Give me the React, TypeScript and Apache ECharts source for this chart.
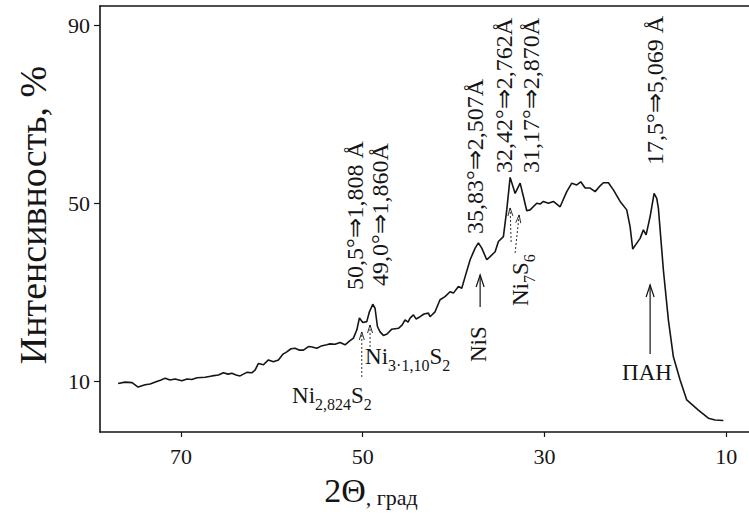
import React, { useEffect, useRef } from "react";
import * as echarts from "echarts";

// 2Θ (degrees) and relative intensity (%)
const twoTheta = [
  76.91, 76.14, 75.37, 74.71, 73.94, 73.39, 72.73, 72.18, 71.74, 71.19,
  70.64, 69.9, 69.32, 68.8, 68.22, 67.34, 66.57, 65.87, 65.32, 64.81,
  64.4, 63.93, 63.49, 62.75, 62.2, 61.84, 61.47, 60.92, 60.37, 59.82,
  59.27, 58.76, 58.35, 57.88, 57.44, 57.0, 56.52, 55.97, 55.57, 55.05,
  54.58, 53.95, 53.59, 53.04, 52.49, 51.94, 51.39, 51.02, 50.65, 50.36,
  49.99, 49.55, 49.26, 48.89, 48.64, 48.38, 48.09, 47.72, 47.32, 46.8,
  46.07, 45.67, 45.34, 45.01, 44.79, 44.42, 44.13, 43.69, 43.25, 42.77,
  42.59, 42.04, 41.49, 40.94, 40.39, 40.02, 39.47, 39.1, 38.73, 38.18,
  37.63, 37.27, 36.9, 36.35, 35.98, 35.43, 35.07, 34.52, 34.15, 33.78,
  33.23, 32.68, 32.32, 31.95, 31.58, 30.85, 30.48, 30.12, 29.57, 29.02,
  28.28, 27.55, 27.0, 26.45, 26.01, 25.53, 24.98, 24.43, 23.88, 23.52,
  22.97, 22.42, 21.68, 20.95, 20.58, 20.29, 19.92, 19.48, 19.12, 18.82,
  18.38, 17.94, 17.65, 17.47, 16.92, 16.37, 15.82, 15.08, 14.35, 13.07,
  11.97, 11.23, 10.32,
];
const intensity = [
  9.6, 9.9, 9.8, 8.8, 9.3, 9.5, 10.0, 10.4, 10.8, 10.4,
  10.6, 10.2, 10.6, 10.5, 10.9, 11.0, 11.3, 11.5, 12.0, 11.7,
  11.9, 11.5, 11.3, 12.1, 12.0, 12.6, 14.1, 13.8, 14.9, 14.5,
  14.9, 16.2, 16.7, 17.4, 17.5, 17.1, 17.1, 17.9, 17.8, 17.5,
  18.0, 18.3, 18.5, 18.4, 18.8, 18.3, 19.2, 19.8, 21.6, 24.3,
  23.3, 23.5, 25.7, 27.4, 26.5, 22.4, 21.2, 20.4, 20.7, 21.8,
  22.0, 22.7, 23.9, 23.4, 24.3, 25.0, 24.1, 24.6, 25.2, 25.4,
  24.6, 25.7, 28.4, 29.1, 30.2, 29.9, 31.4, 31.0, 33.6, 37.4,
  40.0, 41.2, 40.0, 37.4, 38.1, 39.2, 41.5, 42.6, 48.6, 55.9,
  52.3, 54.6, 51.6, 48.4, 48.6, 50.1, 49.9, 50.5, 50.1, 50.5,
  49.3, 52.7, 54.6, 54.2, 54.9, 53.5, 53.5, 52.7, 54.0, 54.7,
  54.7, 53.1, 50.5, 48.6, 44.8, 39.8, 40.9, 42.2, 44.1, 43.0,
  47.1, 52.3, 51.2, 49.0, 35.1, 23.9, 15.6, 10.4, 5.9, 3.6,
  1.8, 1.4, 1.3,
];

const xTickValues = [70, 50, 30, 10];
const yTickValues = [10, 50, 90];

// peak annotations (vertical text), anchored at their lower end, in data coordinates
const peakLabels = [
  { text: "50,5°⇒1,808 Å", at: [50.84, 30.6] },
  { text: "49,0°⇒1,860Å", at: [48.09, 31.5] },
  { text: "35,83°⇒2,507Å", at: [37.63, 43.2] },
  { text: "32,42°⇒2,762Å", at: [34.44, 56.9] },
  { text: "31,17°⇒2,870Å", at: [31.47, 56.9] },
  { text: "17,5°⇒5,069 Å", at: [17.83, 58.7] },
];

// phase labels (rich text: {m|..} = main, {s|..} = subscript)
const phaseLabels = [
  { text: "{m|Ni}{s|2,824}{m|S}{s|2}", at: [57.77, 6.79], vertical: false },
  { text: "{m|Ni}{s|3·1,10}{m|S}{s|2}", at: [49.74, 15.55], vertical: false },
  { text: "{m|NiS}", at: [37.3, 14.4], vertical: true },
  { text: "{m|Ni}{s|7}{m|S}{s|6}", at: [32.68, 27.0], vertical: true },
  { text: "{m|ПАН}", at: [21.46, 11.96], vertical: false },
];

// arrows pointing at peaks: tail -> head, in data coordinates
const arrows = [
  { from: [50.1, 11.06], to: [50.1, 21.17], dotted: true },
  { from: [49.19, 17.8], to: [49.19, 22.74], dotted: true },
  { from: [37.08, 26.79], to: [37.08, 33.98], dotted: false },
  { from: [33.67, 41.39], to: [33.78, 49.03], dotted: true },
  { from: [33.23, 38.92], to: [32.79, 47.46], dotted: true },
  { from: [18.38, 16.22], to: [18.38, 31.73], dotted: false },
];

export default function App() {
  const ref = useRef<HTMLDivElement>(null);

  useEffect(() => {
    const el = ref.current;
    if (!el) return;
    const chart = echarts.init(el, null, { renderer: "svg" });
    const family = "Liberation Serif";
    const ink = "#151515";

    const axisLine = { show: true, onZero: false, lineStyle: { color: ink, width: 1.6 } };

    chart.setOption({
      animation: false,
      backgroundColor: "#ffffff",
      textStyle: { fontFamily: family },
      grid: { left: 100, right: 0, top: 6, bottom: 83, containLabel: false },
      xAxis: [
        {
          type: "value",
          min: 7.5,
          max: 78.9,
          inverse: true,
          position: "bottom",
          axisLine,
          axisTick: { show: true, length: 5, customValues: xTickValues, lineStyle: { color: ink, width: 1.2 } },
          axisLabel: { customValues: xTickValues, margin: 13, color: ink, fontFamily: family, fontSize: 22 },
          splitLine: { show: false },
        },
        {
          type: "value",
          min: 7.5,
          max: 78.9,
          inverse: true,
          position: "top",
          axisLine,
          axisTick: { show: false },
          axisLabel: { show: false },
          splitLine: { show: false },
        },
      ],
      yAxis: {
        type: "value",
        min: -1.3,
        max: 94.4,
        axisLine,
        axisTick: { show: true, length: 6, customValues: yTickValues, lineStyle: { color: ink, width: 1.2 } },
        axisLabel: { customValues: yTickValues, margin: 10, color: ink, fontFamily: family, fontSize: 22 },
        splitLine: { show: false },
      },
      series: [
        {
          type: "line",
          xAxisIndex: 0,
          yAxisIndex: 0,
          data: twoTheta.map((x, i) => [x, intensity[i]]),
          symbol: "none",
          showSymbol: false,
          lineStyle: { color: ink, width: 1.6 },
        },
      ],
    });

    const px = (p: number[]) => chart.convertToPixel({ seriesIndex: 0 }, p) as number[];

    const elements: any[] = [];

    peakLabels.forEach((l) => {
      const [x, y] = px(l.at);
      elements.push({
        type: "text",
        x,
        y,
        rotation: Math.PI / 2,
        z: 10,
        style: {
          text: l.text,
          font: `24px ${family}`,
          fontFamily: family,
          fontSize: 24,
          fill: ink,
          align: "left",
          verticalAlign: "middle",
          textAlign: "left",
          textVerticalAlign: "middle",
        },
      });
    });

    phaseLabels.forEach((l) => {
      const [x, y] = px(l.at);
      elements.push({
        type: "text",
        x,
        y,
        rotation: l.vertical ? Math.PI / 2 : 0,
        z: 10,
        style: {
          text: l.text,
          fontFamily: family,
          fontSize: 23,
          fill: ink,
          align: "left",
          verticalAlign: "middle",
          textAlign: "left",
          textVerticalAlign: "middle",
          rich: {
            m: { fontFamily: family, fontSize: 23, lineHeight: 34, fill: ink, color: ink },
            s: { fontFamily: family, fontSize: 16, lineHeight: 14, verticalAlign: "bottom", fill: ink, color: ink },
          },
        },
      });
    });

    arrows.forEach((a) => {
      const [x1, y1] = px(a.from);
      const [x2, y2] = px(a.to);
      const dx = x2 - x1;
      const dy = y2 - y1;
      const len = Math.hypot(dx, dy) || 1;
      const ux = dx / len;
      const uy = dy / len;
      const L = a.dotted ? 8 : 12;
      const W = a.dotted ? 2.5 : 4;
      const bx = x2 - ux * L;
      const by = y2 - uy * L;
      const lw = a.dotted ? 0.9 : 1.2;
      elements.push({
        type: "line",
        z: 10,
        shape: { x1, y1, x2, y2 },
        style: { stroke: ink, lineWidth: lw, lineDash: a.dotted ? [2, 2] : null },
      });
      elements.push({
        type: "polyline",
        z: 10,
        shape: {
          points: [
            [bx - uy * W, by + ux * W],
            [x2, y2],
            [bx + uy * W, by - ux * W],
          ],
        },
        style: { stroke: ink, lineWidth: lw, fill: null },
      });
    });

    // axis titles
    elements.push({
      type: "text",
      x: 33,
      y: 215,
      rotation: Math.PI / 2,
      z: 10,
      style: {
        text: "Интенсивность, %",
        font: `38px ${family}`,
        fontFamily: family,
        fontSize: 38,
        fill: ink,
        align: "center",
        verticalAlign: "middle",
        textAlign: "center",
        textVerticalAlign: "middle",
      },
    });
    elements.push({
      type: "text",
      x: 371,
      y: 490,
      z: 10,
      style: {
        text: "{a|2Θ}{b|, град}",
        fill: ink,
        align: "center",
        verticalAlign: "middle",
        textAlign: "center",
        textVerticalAlign: "middle",
        rich: {
          a: { fontFamily: family, fontSize: 34, lineHeight: 36, fill: ink, color: ink },
          b: { fontFamily: family, fontSize: 22, lineHeight: 25, verticalAlign: "bottom", fill: ink, color: ink },
        },
      },
    });

    chart.setOption({ graphic: { elements } });

    return () => chart.dispose();
  }, []);

  return (
    <div
      ref={ref}
      style={{ position: "fixed", left: 0, top: 0, width: 749, height: 515, background: "#fff" }}
    />
  );
}
